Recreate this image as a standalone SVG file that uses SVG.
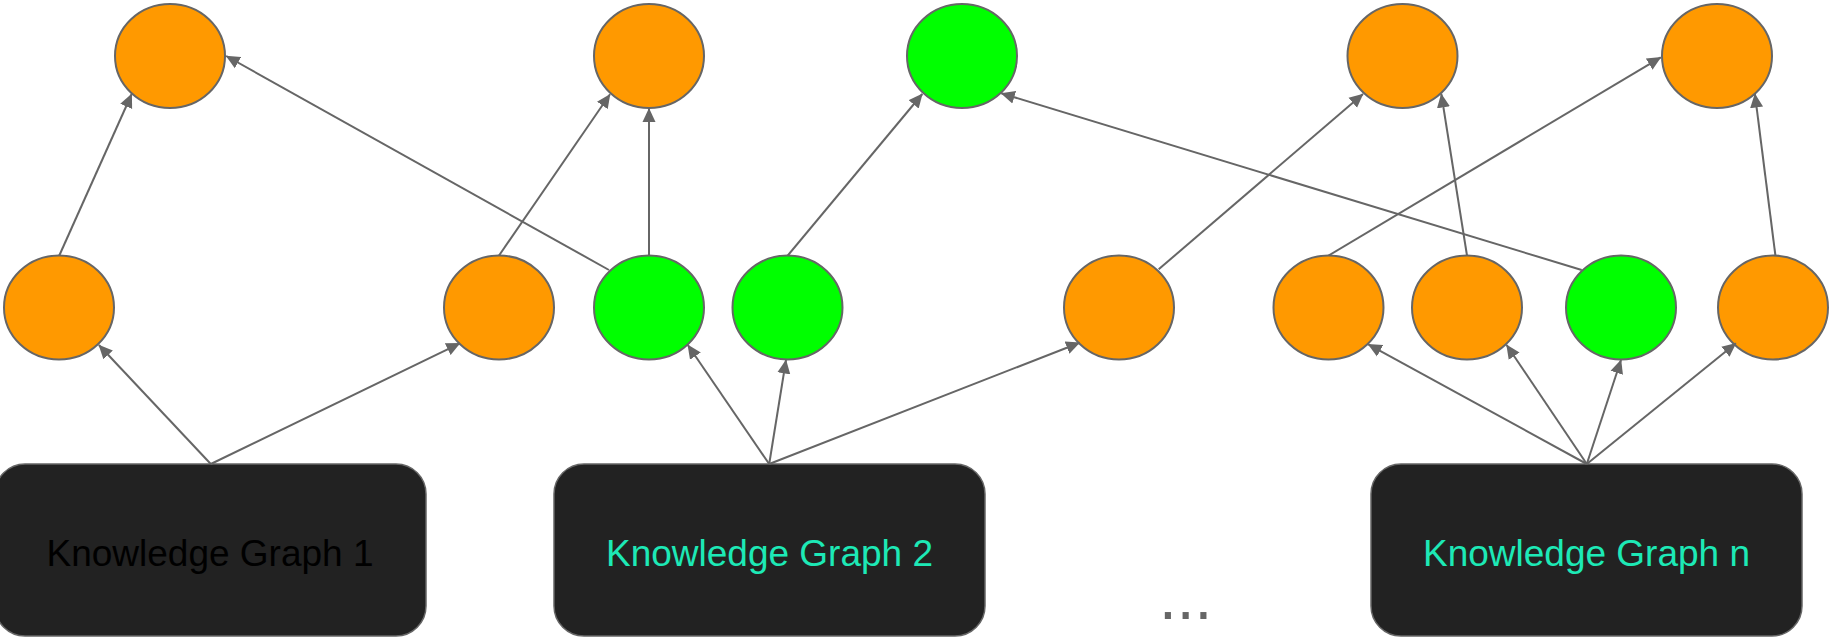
<svg xmlns="http://www.w3.org/2000/svg" width="1829" height="637" viewBox="0 0 1829 637">
  <style>
    .orange { fill: #ff9900; stroke: #666666; stroke-width: 2; }
    .green { fill: #00ff00; stroke: #666666; stroke-width: 2; }
    .kg { fill: #222222; stroke: #666666; stroke-width: 1.5; }
    .kg-label { font-family: "Liberation Sans", Arial, sans-serif; font-size: 37px; text-anchor: middle; }
    .edge { fill: none; stroke: #666666; stroke-width: 2; marker-end: url(#arrow); }
  </style>
  <defs>
    <marker id="arrow" markerUnits="userSpaceOnUse" viewBox="0 0 14 14" markerWidth="14" markerHeight="14" refX="13.5" refY="7" orient="auto">
      <path d="M0,0.5 L14,7 L0,13.5 z" fill="#666666"/>
    </marker>
  </defs>
  <rect width="1829" height="637" fill="#ffffff"/>

  <!-- top row -->
  <g id="top-1"><ellipse class="orange" cx="170" cy="56" rx="55" ry="52"/></g>
  <g id="top-2"><ellipse class="orange" cx="649" cy="56" rx="55" ry="52"/></g>
  <g id="top-3"><ellipse class="green" cx="962" cy="56" rx="55" ry="52"/></g>
  <g id="top-4"><ellipse class="orange" cx="1402.5" cy="56" rx="55" ry="52"/></g>
  <g id="top-5"><ellipse class="orange" cx="1717" cy="56" rx="55" ry="52"/></g>

  <!-- middle row -->
  <g id="mid-1"><ellipse class="orange" cx="59" cy="307.5" rx="55" ry="52"/></g>
  <g id="mid-2"><ellipse class="orange" cx="499" cy="307.5" rx="55" ry="52"/></g>
  <g id="mid-3"><ellipse class="green" cx="649" cy="307.5" rx="55" ry="52"/></g>
  <g id="mid-4"><ellipse class="green" cx="787.5" cy="307.5" rx="55" ry="52"/></g>
  <g id="mid-5"><ellipse class="orange" cx="1119" cy="307.5" rx="55" ry="52"/></g>
  <g id="mid-6"><ellipse class="orange" cx="1328.5" cy="307.5" rx="55" ry="52"/></g>
  <g id="mid-7"><ellipse class="orange" cx="1467" cy="307.5" rx="55" ry="52"/></g>
  <g id="mid-8"><ellipse class="green" cx="1621" cy="307.5" rx="55" ry="52"/></g>
  <g id="mid-9"><ellipse class="orange" cx="1773" cy="307.5" rx="55" ry="52"/></g>

  <!-- knowledge graph blocks -->
  <g id="kg-1">
    <rect class="kg" x="-5" y="464" width="431" height="172" rx="30" ry="30"/>
    <text class="kg-label" x="210" y="566" fill="#000000">Knowledge Graph 1</text>
  </g>
  <g id="kg-2">
    <rect class="kg" x="554" y="464" width="431" height="172" rx="30" ry="30"/>
    <text class="kg-label" x="769.5" y="566" fill="#1de9b6">Knowledge Graph 2</text>
  </g>
  <g id="kg-n">
    <rect class="kg" x="1371" y="464" width="431" height="172" rx="30" ry="30"/>
    <text class="kg-label" x="1586.5" y="566" fill="#1de9b6">Knowledge Graph n</text>
  </g>
  <g id="ellipsis">
    <text x="1159" y="619" font-family="Liberation Sans, Arial, sans-serif" font-size="64" fill="#666666">...</text>
  </g>

  <!-- connectors -->
  <g id="connectors">
    <path class="edge" d="M210.8,464 L98.9,345"/>
    <path class="edge" d="M210.8,464 L459.9,343.3"/>
    <path class="edge" d="M769.2,464 L687.8,345"/>
    <path class="edge" d="M769.2,464 L786,360"/>
    <path class="edge" d="M769.2,464 L1079.6,342.7"/>
    <path class="edge" d="M1586.8,464 L1368.2,344.3"/>
    <path class="edge" d="M1586.8,464 L1506.6,345"/>
    <path class="edge" d="M1586.8,464 L1621,360"/>
    <path class="edge" d="M1586.8,464 L1735.9,343.3"/>

    <path class="edge" d="M59.3,255.5 L131.7,94"/>
    <path class="edge" d="M609,270 L226.2,56"/>
    <path class="edge" d="M499,255.5 L610,94.3"/>
    <path class="edge" d="M649,255.5 L649,108.5"/>
    <path class="edge" d="M787.8,255.5 L922.3,94"/>
    <path class="edge" d="M1581.7,270 L1001.3,93.3"/>
    <path class="edge" d="M1158.7,269.3 L1363,94"/>
    <path class="edge" d="M1328.6,255.5 L1660.8,57.3"/>
    <path class="edge" d="M1467,255.5 L1441.3,94"/>
    <path class="edge" d="M1775.4,255.5 L1754.9,94"/>
  </g>
</svg>
